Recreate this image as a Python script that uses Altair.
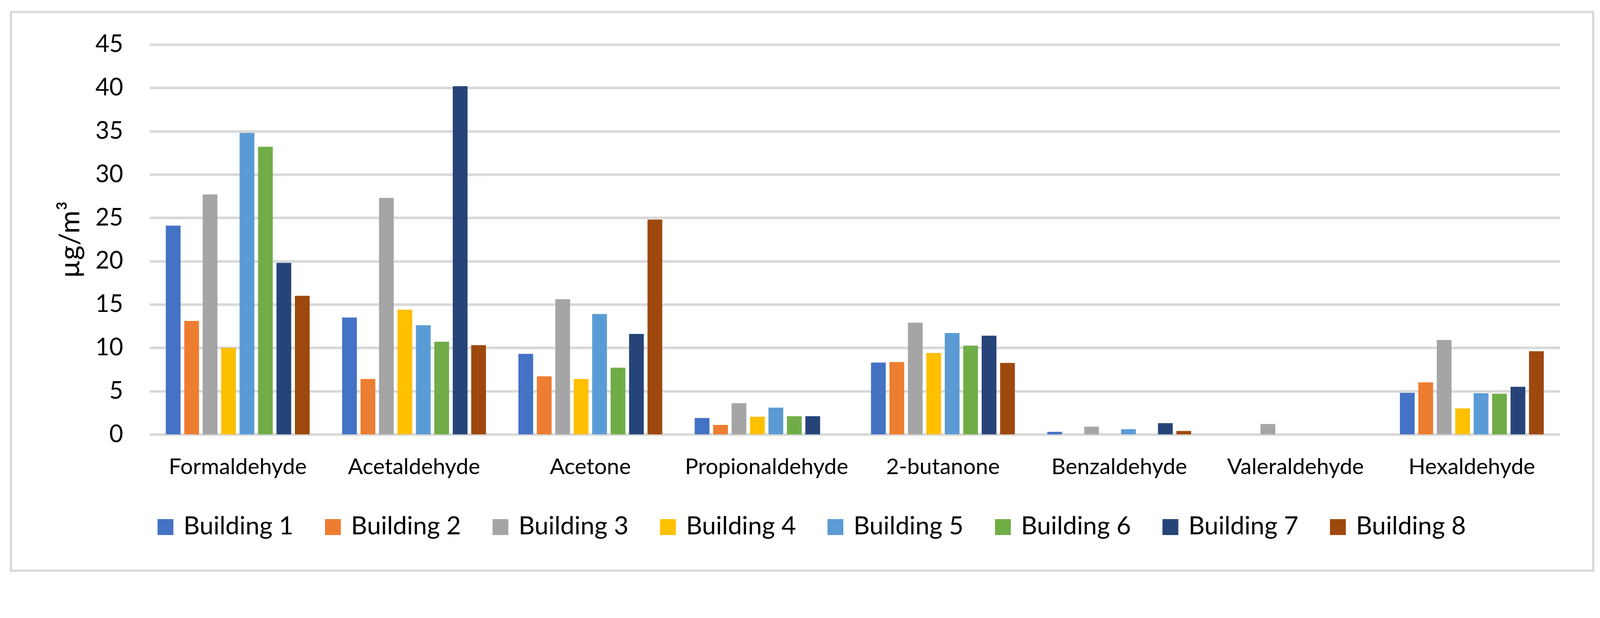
import altair as alt
import pandas as pd

compounds = ["Formaldehyde", "Acetaldehyde", "Acetone", "Propionaldehyde",
             "2-butanone", "Benzaldehyde", "Valeraldehyde", "Hexaldehyde"]
buildings = ["Building 1", "Building 2", "Building 3", "Building 4",
             "Building 5", "Building 6", "Building 7", "Building 8"]

b1 = [24.1, 13.5, 9.3, 1.9, 8.3, 0.3, 0.0, 4.8]
b2 = [13.1, 6.4, 6.7, 1.1, 8.35, 0.0, 0.0, 6.0]
b3 = [27.7, 27.3, 15.6, 3.6, 12.9, 0.9, 1.2, 10.9]
b4 = [10.0, 14.4, 6.4, 2.05, 9.4, 0.0, 0.0, 3.0]
b5 = [34.8, 12.6, 13.9, 3.1, 11.7, 0.6, 0.0, 4.75]
b6 = [33.2, 10.7, 7.7, 2.1, 10.25, 0.0, 0.0, 4.7]
b7 = [19.8, 40.2, 11.6, 2.1, 11.4, 1.3, 0.0, 5.5]
b8 = [16.0, 10.3, 24.8, 0.0, 8.25, 0.4, 0.0, 9.6]

colors = ["#4472C4", "#ED7D31", "#A5A5A5", "#FFC000",
          "#5B9BD5", "#70AD47", "#264478", "#9E480E"]

series = [b1, b2, b3, b4, b5, b6, b7, b8]
rows = []
for bname, vals in zip(buildings, series):
    for c, v in zip(compounds, vals):
        rows.append({"compound": c, "building": bname, "value": v})
df = pd.DataFrame(rows)

FONT = "Lato"

bars = alt.Chart(df).mark_bar().encode(
    x=alt.X("compound:N", sort=compounds,
            scale=alt.Scale(paddingInner=0.184, paddingOuter=0.092),
            axis=alt.Axis(title=None, labelAngle=0, labelFontSize=60,
                          labelPadding=60, ticks=False, tickSize=0,
                          domain=False, labelColor="#000000",
                          labelFont=FONT, labelLimit=2000)),
    xOffset=alt.XOffset("building:N", sort=buildings,
                        scale=alt.Scale(paddingInner=0.2, paddingOuter=0)),
    y=alt.Y("value:Q",
            scale=alt.Scale(domain=[0, 45], nice=False),
            axis=alt.Axis(title="µg/m³", values=list(range(0, 50, 5)),
                          labelFontSize=65, labelPadding=72, ticks=False,
                          tickSize=0, domain=False, gridColor="#D9D9D9",
                          gridWidth=7, labelColor="#000000",
                          labelFont=FONT, titleFont=FONT, titleFontSize=76,
                          titleFontWeight="normal", titleColor="#000000",
                          titlePadding=28)),
    color=alt.Color("building:N", sort=buildings,
                    scale=alt.Scale(domain=buildings, range=colors),
                    legend=alt.Legend(title=None, orient="none",
                                      direction="horizontal", columns=8,
                                      legendX=9, legendY=1273,
                                      symbolType="square", symbolSize=1849,
                                      symbolStrokeWidth=0,
                                      labelFontSize=68, labelFont=FONT,
                                      labelColor="#000000", labelOffset=15,
                                      columnPadding=72, gridAlign="all",
                                      labelLimit=1000, padding=0)),
)

border_df = pd.DataFrame({"k": [0]})
border = alt.Chart(border_df).mark_rect(
    fill="transparent", stroke="#D9D9D9", strokeWidth=6
).encode(
    x=alt.value(-376), x2=alt.value(3913),
    y=alt.value(-88), y2=alt.value(1425),
)

chart = alt.layer(border, bars).properties(
    width=3823, height=1056,
    autosize=alt.AutoSizeParams(type="none"),
    padding={"left": 397, "top": 68, "right": 100, "bottom": 380},
    background="#FFFFFF",
).configure_view(stroke=None)

chart.save("out.html", embed_options={"renderer": "svg", "actions": False})
